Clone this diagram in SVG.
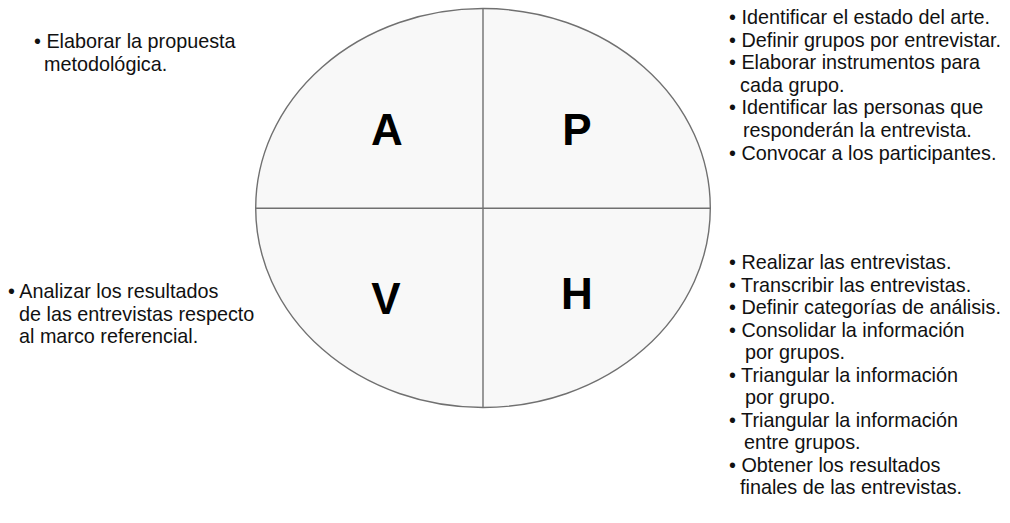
<svg xmlns="http://www.w3.org/2000/svg" width="1010" height="523" viewBox="0 0 1010 523">
<style>
.t{font-family:"Liberation Sans",Arial,sans-serif;font-size:19.8px;fill:#111}
.q{font-family:"Liberation Sans",Arial,sans-serif;font-size:44px;font-weight:bold;fill:#000;text-anchor:middle}
.s{stroke:#707070;stroke-width:1.4;fill:none}
</style>
<rect width="1010" height="523" fill="#fff"/>
<g id="cycle">
<ellipse cx="483" cy="208" rx="227.3" ry="199.5" fill="#f8f8f8" stroke="#707070" stroke-width="1.4"/>
</g>
<g id="connectors">
<line class="s" x1="483" y1="8.5" x2="483" y2="407.5"/>
<line class="s" x1="255.7" y1="208.3" x2="710.3" y2="208.3"/>
</g>
<g id="node-A"><text class="q" x="387" y="145">A</text></g>
<g id="node-P"><text class="q" x="577" y="145">P</text></g>
<g id="node-V"><text class="q" x="386" y="314">V</text></g>
<g id="node-H"><text class="q" x="577" y="309">H</text></g>
<g id="text-A">
<text class="t" x="34" y="48">• Elaborar la propuesta</text>
<text class="t" x="44" y="70.5">metodológica.</text>
</g>
<g id="text-V">
<text class="t" x="8" y="298">• Analizar los resultados</text>
<text class="t" x="19" y="320.5">de las entrevistas respecto</text>
<text class="t" x="19" y="343">al marco referencial.</text>
</g>
<g id="text-P">
<text class="t" x="729" y="24">• Identificar el estado del arte.</text>
<text class="t" x="729" y="46.6">• Definir grupos por entrevistar.</text>
<text class="t" x="729" y="69.2">• Elaborar instrumentos para</text>
<text class="t" x="740" y="91.8">cada grupo.</text>
<text class="t" x="729" y="114.4">• Identificar las personas que</text>
<text class="t" x="743" y="137">responderán la entrevista.</text>
<text class="t" x="729" y="159.6">• Convocar a los participantes.</text>
</g>
<g id="text-H">
<text class="t" x="729" y="269">• Realizar las entrevistas.</text>
<text class="t" x="729" y="291.5">• Transcribir las entrevistas.</text>
<text class="t" x="729" y="314">• Definir categorías de análisis.</text>
<text class="t" x="729" y="336.5">• Consolidar la información</text>
<text class="t" x="745" y="359">por grupos.</text>
<text class="t" x="729" y="381.5">• Triangular la información</text>
<text class="t" x="745" y="404">por grupo.</text>
<text class="t" x="729" y="426.5">• Triangular la información</text>
<text class="t" x="744" y="449">entre grupos.</text>
<text class="t" x="729" y="471.5">• Obtener los resultados</text>
<text class="t" x="740" y="494">finales de las entrevistas.</text>
</g>
</svg>
